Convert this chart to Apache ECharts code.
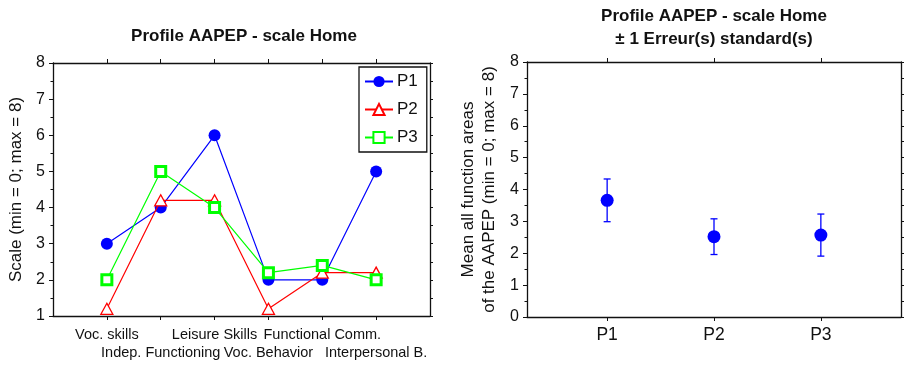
<!DOCTYPE html>
<html>
<head>
<meta charset="utf-8">
<script src="https://cdn.jsdelivr.net/npm/echarts@6/dist/echarts.min.js"></script>
<style>
  html, body { margin: 0; padding: 0; background: #fff; }
  #chart { width: 905px; height: 366px; }
</style>
</head>
<body>
<div id="chart"></div>
<script>
// profile categories (left chart)
const areas = ["Voc. skills", "Indep. Functioning", "Leisure Skills", "Voc. Behavior", "Functional Comm.", "Interpersonal B."]
const p1 = [3, 4, 6, 2, 2, 5]
const p2 = [1.2, 4.2, 4.2, 1.2, 2.2, 2.2]
const p3 = [2, 5, 4, 2.2, 2.4, 2]

// means +/- 1 standard error (right chart)
const persons = ["P1", "P2", "P3"]
const means = [3.66, 2.52, 2.57]
const stdErr = [0.67, 0.56, 0.66]

const areaIdx = [0, 1, 2, 3, 4, 5]
const areaRow1 = [0, 2, 4]
const areaRow2 = [1, 3, 5]
const personIdx = [1, 2, 3]

const font = "Liberation Sans, Arial, Helvetica, sans-serif"
const ink = "#111"

const chart = echarts.init(document.getElementById("chart"))

function frameAxis(extra) {
  return Object.assign({
    axisLine: { show: true, onZero: false, lineStyle: { color: ink, width: 1.3 } },
    axisTick: { show: true, inside: false, length: 4, lineStyle: { color: ink, width: 1 } },
    axisLabel: { show: false },
    splitLine: { show: false }
  }, extra)
}

const labelStyle = { color: ink, fontFamily: font, showMinLabel: true, showMaxLabel: true, hideOverlap: false }

const option = {
  animation: false,
  textStyle: { fontFamily: font },
  title: [
    {
      text: "Profile AAPEP - scale Home",
      left: 244,
      top: 28,
      textAlign: "center",
      padding: 0,
      textStyle: { fontSize: 17, fontWeight: "bold", color: ink, fontFamily: font }
    },
    {
      text: "Profile AAPEP - scale Home\n\u00b1 1 Erreur(s) standard(s)",
      left: 714,
      top: 5,
      textAlign: "center",
      padding: 0,
      textStyle: { fontSize: 17, fontWeight: "bold", color: ink, lineHeight: 23, fontFamily: font }
    }
  ],
  legend: {
    orient: "vertical",
    left: 359,
    top: 67,
    padding: [6, 9, 6, 5],
    borderColor: ink,
    borderWidth: 1.3,
    itemWidth: 28,
    itemHeight: 14,
    itemGap: 11,
    data: ["P1", "P2", "P3"],
    textStyle: { fontSize: 17, color: ink, fontFamily: font, padding: [0, 0, 0, -1] }
  },
  grid: [
    { left: 53, top: 63, width: 377, height: 253 },
    { left: 527, top: 62, width: 374, height: 255 }
  ],
  xAxis: [
    frameAxis({
      gridIndex: 0, type: "value", min: -1, max: 6, position: "bottom",
      axisTick: { show: true, inside: false, length: 4, customValues: areaIdx, lineStyle: { color: ink } },
      axisLabel: Object.assign({
        show: true, customValues: areaRow1, fontSize: 14.5, margin: 11,
        formatter: (v) => areas[v]
      }, labelStyle)
    }),
    frameAxis({
      gridIndex: 0, type: "value", min: -1, max: 6, position: "top",
      axisTick: { show: true, inside: false, length: 4, customValues: areaIdx, lineStyle: { color: ink } }
    }),
    frameAxis({
      gridIndex: 1, type: "value", min: 0.25, max: 3.75, position: "bottom",
      axisTick: { show: true, inside: false, length: 4, customValues: personIdx, lineStyle: { color: ink } },
      axisLabel: Object.assign({
        show: true, customValues: personIdx, fontSize: 17.5, margin: 9,
        formatter: (v) => persons[v - 1]
      }, labelStyle)
    }),
    frameAxis({
      gridIndex: 1, type: "value", min: 0.25, max: 3.75, position: "top",
      axisTick: { show: true, inside: false, length: 4, customValues: personIdx, lineStyle: { color: ink } }
    }),
    // second row of staggered area labels
    frameAxis({
      gridIndex: 0, type: "value", min: -1, max: 6, position: "bottom",
      axisLine: { show: false },
      axisTick: { show: false },
      axisLabel: Object.assign({
        show: true, customValues: areaRow2, fontSize: 14.5, margin: 29,
        formatter: (v) => areas[v]
      }, labelStyle)
    })
  ],
  yAxis: [
    frameAxis({
      gridIndex: 0, type: "value", min: 1, max: 8, interval: 1, position: "left",
      name: "Scale (min = 0; max = 8)", nameLocation: "middle", nameGap: 28,
      nameTextStyle: { fontSize: 17, color: ink, fontFamily: font },
      minorTick: { show: true, splitNumber: 2, length: 2.5, lineStyle: { color: ink } },
      axisLabel: Object.assign({ show: true, fontSize: 16, margin: 8 }, labelStyle)
    }),
    frameAxis({
      gridIndex: 0, type: "value", min: 1, max: 8, interval: 0.5, position: "right",
      axisTick: { show: true, inside: false, length: 3, lineStyle: { color: ink } }
    }),
    frameAxis({
      gridIndex: 1, type: "value", min: 0, max: 8, interval: 1, position: "left",
      name: "Mean all function areas\nof the AAPEP (min = 0; max = 8)", nameLocation: "middle", nameGap: 27,
      nameTextStyle: { fontSize: 17, color: ink, lineHeight: 21, fontFamily: font },
      minorTick: { show: true, splitNumber: 2, length: 2.5, lineStyle: { color: ink } },
      axisLabel: Object.assign({ show: true, fontSize: 16, margin: 8 }, labelStyle)
    }),
    frameAxis({
      gridIndex: 1, type: "value", min: 0, max: 8, interval: 0.5, position: "right",
      axisTick: { show: true, inside: false, length: 3, lineStyle: { color: ink } }
    })
  ],
  series: [
    {
      name: "P1", type: "line", xAxisIndex: 0, yAxisIndex: 0,
      data: p1.map((v, i) => [i, v]),
      symbol: "circle", symbolSize: 12,
      itemStyle: { color: "#0000ff" },
      lineStyle: { color: "#0000ff", width: 1.2 },
      z: 3
    },
    {
      name: "P2", type: "line", xAxisIndex: 0, yAxisIndex: 0,
      data: p2.map((v, i) => [i, v]),
      symbol: "triangle", symbolSize: [12, 11],
      itemStyle: { color: "#fff", borderColor: "#ff0000", borderWidth: 1.3 },
      lineStyle: { color: "#ff0000", width: 1.2 },
      z: 4
    },
    {
      name: "P3", type: "line", xAxisIndex: 0, yAxisIndex: 0,
      data: p3.map((v, i) => [i, v]),
      symbol: "rect", symbolSize: 10,
      itemStyle: { color: "#fff", borderColor: "#00ff00", borderWidth: 3 },
      lineStyle: { color: "#00ff00", width: 1.2 },
      z: 5
    },
    {
      type: "custom", xAxisIndex: 2, yAxisIndex: 2,
      data: means.map((m, i) => [i + 1, m - stdErr[i], m + stdErr[i]]),
      renderItem: (params, api) => {
        const lo = api.coord([api.value(0), api.value(1)])
        const hi = api.coord([api.value(0), api.value(2)])
        const cap = 3.5
        const style = { stroke: "#0000ff", lineWidth: 1.3 }
        return {
          type: "group",
          children: [
            { type: "line", shape: { x1: lo[0], y1: lo[1], x2: hi[0], y2: hi[1] }, style },
            { type: "line", shape: { x1: lo[0] - cap, y1: lo[1], x2: lo[0] + cap, y2: lo[1] }, style },
            { type: "line", shape: { x1: hi[0] - cap, y1: hi[1], x2: hi[0] + cap, y2: hi[1] }, style }
          ]
        }
      },
      z: 2
    },
    {
      type: "scatter", xAxisIndex: 2, yAxisIndex: 2,
      data: means.map((m, i) => [i + 1, m]),
      symbol: "circle", symbolSize: 13,
      itemStyle: { color: "#0000ff", opacity: 1 },
      z: 3
    }
  ]
}

chart.setOption(option)
</script>
</body>
</html>
